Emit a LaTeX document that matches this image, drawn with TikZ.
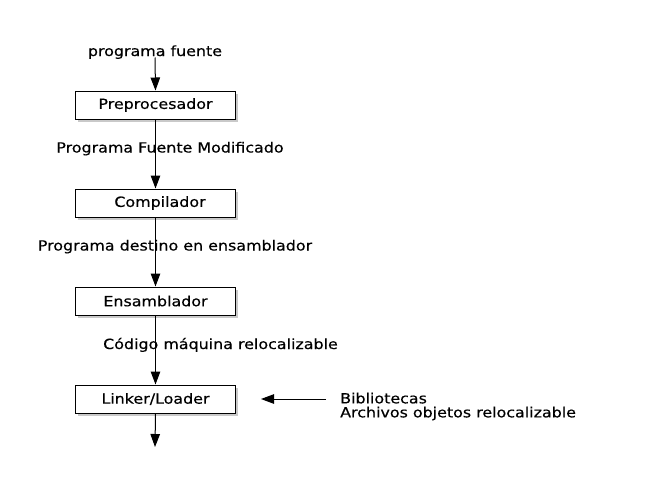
\documentclass[tikz,border=0pt]{standalone}
\usepackage{fontspec}
\setmainfont{DejaVu Sans}[FakeStretch=1.135,FakeBold=0.4]
\usetikzlibrary{arrows.meta,shadows}
\begin{document}
\begin{tikzpicture}[x=1pt,y=-1pt,
  font=\fontsize{14}{14}\selectfont,
  stage/.style={draw=black, line width=1pt, fill=white, rectangle,
    minimum width=160pt, minimum height=28pt, inner sep=0pt,
    drop shadow={shadow xshift=2.5pt, shadow yshift=-2.5pt, fill=black!35, opacity=0.6}},
  lbl/.style={inner sep=0pt, anchor=base},
  arr/.style={line width=1pt, -{Triangle[length=13pt,width=9.5pt]}}]
\useasboundingbox[fill=white] (0,0) rectangle (660,490);

\node[stage] (pre)  at (155.5,105) {Preprocesador};
\node[stage] (comp) at (155.5,203) {\hspace*{9pt}Compilador};
\node[stage] (ens)  at (155.5,301) {Ensamblador};
\node[stage] (link) at (155.5,399) {Linker/Loader};

\node[lbl] (src) at (155,56) {programa fuente};
\node[lbl] (l1) at (170,152.5) {Programa Fuente Modificado};
\node[lbl] (l2) at (175,250.5) {Programa destino en ensamblador};
\node[lbl, anchor=base west] (l3) at (103,349) {Código máquina relocalizable};
\node[inner sep=0pt, anchor=north west, align=left,
      font=\fontsize{14}{14}\selectfont] (lib) at (340,392.5)
      {Bibliotecas\\Archivos objetos relocalizable};

\coordinate (libsrc) at (326,399);
\coordinate (out) at (155,447);

\draw[arr] ([yshift=-1.5pt]src.base) -- (pre.north);
\draw[arr] (pre.south) -- (comp.north);
\draw[arr] (comp.south) -- (ens.north);
\draw[arr] (ens.south) -- (link.north);
\draw[arr] (link.south) -- (out);
\draw[arr] (libsrc) -- ([xshift=25pt]link.east);
\end{tikzpicture}
\end{document}
